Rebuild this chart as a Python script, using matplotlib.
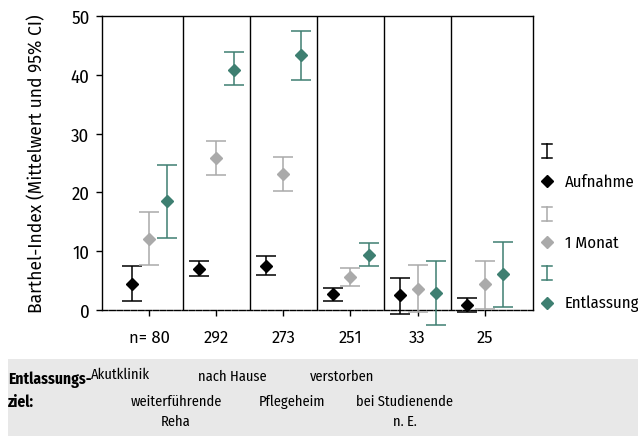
import matplotlib
matplotlib.use("Agg")
import matplotlib.pyplot as plt
from matplotlib.lines import Line2D
from matplotlib.patches import Rectangle
import numpy as np

plt.rcParams['font.family'] = ['Fira Sans Condensed', 'DejaVu Sans']

n_labels = ["n= 80", "292", "273", "251", "33", "25"]
series = ["Aufnahme", "1 Monat", "Entlassung"]
colors = ["#000000", "#aaaaaa", "#3e7f71"]

# means and 95% CI (lower, upper) for each group
aufnahme_mean = [4.5, 6.9, 7.4, 2.8, 2.5, 0.9]
aufnahme_lo = [1.6, 5.7, 5.9, 1.6, -0.7, -0.4]
aufnahme_hi = [7.4, 8.3, 9.2, 3.8, 5.5, 2.1]

monat_mean = [12.1, 25.8, 23.2, 5.6, 3.5, 4.4]
monat_lo = [7.6, 23.0, 20.2, 4.0, -0.4, 0.1]
monat_hi = [16.6, 28.7, 26.1, 7.2, 7.6, 8.3]

entl_mean = [18.5, 40.9, 43.3, 9.4, 2.9, 6.1]
entl_lo = [12.3, 38.2, 39.2, 7.4, -2.6, 0.5]
entl_hi = [24.7, 43.8, 47.5, 11.4, 8.3, 11.6]

ziel_labels = ["Akutklinik", "weiterführende\nReha", "nach Hause",
               "Pflegeheim", "verstorben", "bei Studienende\nn. E."]

means = [aufnahme_mean, monat_mean, entl_mean]
los = [aufnahme_lo, monat_lo, entl_lo]
his = [aufnahme_hi, monat_hi, entl_hi]
offsets = [-0.26, 0.0, 0.27]

W, H = 638, 439
fig = plt.figure(figsize=(W / 100, H / 100), dpi=100)
ax = fig.add_axes([102 / W, 1 - 311 / H, (533 - 102) / W, (311 - 17) / H])

x = np.arange(len(n_labels))
for m, lo, hi, c, off in zip(means, los, his, colors, offsets):
    m = np.array(m); lo = np.array(lo); hi = np.array(hi)
    eb = ax.errorbar(x + off, m, yerr=[m - lo, hi - m], fmt='D', color=c,
                     ms=6, capsize=7.5, elinewidth=1.1, capthick=1.1,
                     mec=c, mfc=c, zorder=3)
    for art in eb.lines[1] + eb.lines[2]:
        art.set_clip_on(False)
    eb.lines[0].set_clip_on(False)

for d in np.arange(0.5, len(n_labels) - 1, 1.0):
    ax.axvline(d, color='black', lw=1.0, zorder=2)

ax.set_xlim(-0.70, 5.72)
ax.set_ylim(0, 50)
ax.set_yticks([0, 10, 20, 30, 40, 50])
ax.set_xticks(x)
ax.set_xticklabels(n_labels, family=['Fira Sans', 'DejaVu Sans'], fontsize=12)
ax.tick_params(axis='y', labelsize=13.5, length=4, width=1, pad=5)
ax.tick_params(axis='x', length=4, width=1, pad=10)
for s in ax.spines.values():
    s.set_linewidth(1.0)
ax.spines['bottom'].set_linestyle((0, (4, 1.2)))
ax.set_ylabel("Barthel-Index (Mittelwert und 95% CI)", fontsize=12.6,
              family=['Fira Sans', 'DejaVu Sans'], labelpad=18)

# legend (manual)
leg_x = 547 / W
leg_items = [(152, 182, "Aufnahme"), (215, 243, "1 Monat"), (274, 304, "Entlassung")]
for (ybar, ydia, lab), c in zip(leg_items, colors):
    yb = 1 - ybar / H
    hh = 7 / H
    ww = 5 / W
    fig.add_artist(Line2D([leg_x, leg_x], [yb - hh, yb + hh], color=c, lw=1.1))
    fig.add_artist(Line2D([leg_x - ww, leg_x + ww], [yb + hh, yb + hh], color=c, lw=1.1))
    fig.add_artist(Line2D([leg_x - ww, leg_x + ww], [yb - hh, yb - hh], color=c, lw=1.1))
    fig.add_artist(Line2D([leg_x], [1 - ydia / H], marker='D', ms=6, color=c, lw=0))
    fig.text(565 / W, 1 - ydia / H, lab, fontsize=12, va='center', ha='left')

# bottom grey box
fig.add_artist(Rectangle((8 / W, 1 - 437 / H), (W - 8) / W, (437 - 360) / H,
                         transform=fig.transFigure, facecolor='#e8e8e8',
                         edgecolor='none', zorder=0))
fig.text(8 / W, 1 - 391 / H, "Entlassungs-\nziel:", fontsize=11.1, fontweight='bold',
         va='center', ha='left', linespacing=1.5)
ziel_pos = [(120, 375), (176, 412), (232, 377), (292, 402), (342, 377), (405, 412)]
for lab, (px, py) in zip(ziel_labels, ziel_pos):
    fig.text(px / W, 1 - py / H, lab, fontsize=10.4, va='center', ha='center',
             linespacing=1.5)

fig.savefig("out.png", dpi=100)
